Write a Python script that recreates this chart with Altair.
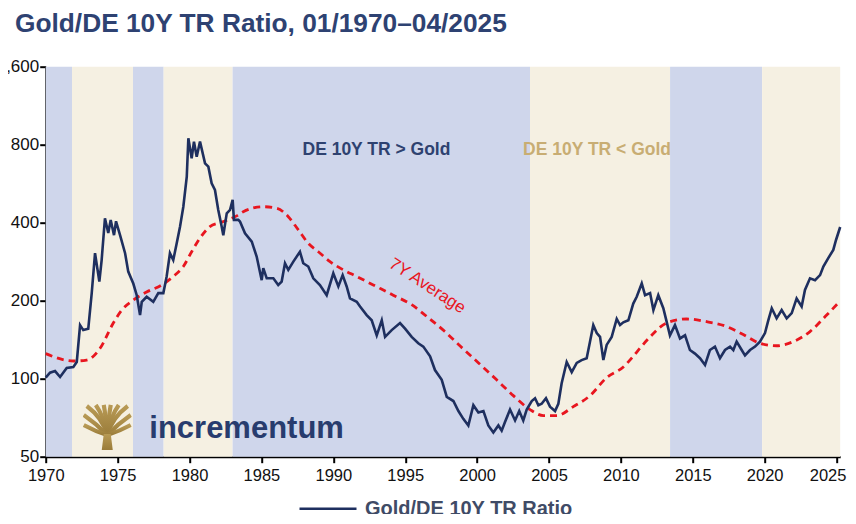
import base64
import altair as alt
import pandas as pd

# ---------------- data ----------------
ratio_year = [
    1970.0, 1970.3, 1970.65, 1971.0, 1971.46, 1971.92, 1972.16, 1972.39, 1972.61, 1972.96,
    1973.2, 1973.43, 1973.73, 1973.89, 1974.12, 1974.35, 1974.52, 1974.75, 1974.89, 1975.17,
    1975.52, 1975.74, 1976.09, 1976.33, 1976.56, 1976.68, 1977.02, 1977.48, 1977.83, 1978.18,
    1978.41, 1978.64, 1978.87, 1979.11, 1979.34, 1979.57, 1979.81, 1979.92,
    1980.15, 1980.31, 1980.5, 1980.73, 1981.08, 1981.31, 1981.54, 1981.77, 1982.0, 1982.24,
    1982.35, 1982.59, 1982.82, 1983.0, 1983.09, 1983.39, 1983.51, 1983.86, 1984.33, 1984.67,
    1985.02, 1985.13, 1985.37, 1985.83, 1986.17, 1986.41, 1986.64, 1986.87, 1987.22, 1987.68,
    1987.91, 1988.26, 1988.61, 1989.07, 1989.54,
    1990.0, 1990.35, 1990.65, 1990.93, 1991.16, 1991.63, 1991.86, 1992.32, 1992.67, 1993.02,
    1993.37, 1993.6, 1994.06, 1994.64, 1994.99, 1995.45, 1995.91, 1996.26, 1996.73, 1997.07,
    1997.54, 1997.89, 1998.35, 1998.7, 1999.04, 1999.39, 1999.74,
    2000.09, 2000.44, 2000.78, 2001.13, 2001.48, 2001.71, 2001.94, 2002.29, 2002.64, 2002.93,
    2003.21, 2003.45, 2003.8, 2004.03, 2004.26, 2004.49, 2004.79, 2005.07, 2005.42, 2005.65,
    2005.88, 2006.23, 2006.58, 2006.93, 2007.27, 2007.62, 2007.85, 2008.08, 2008.32, 2008.55,
    2008.78, 2009.01, 2009.36, 2009.71, 2009.94,
    2010.17, 2010.52, 2010.86, 2011.1, 2011.45, 2011.68, 2012.03, 2012.26, 2012.6, 2012.95,
    2013.18, 2013.41, 2013.76, 2014.11, 2014.46, 2014.8, 2015.15, 2015.5, 2015.85, 2016.19,
    2016.54, 2016.89, 2017.24, 2017.59, 2017.82, 2018.05, 2018.4, 2018.63, 2018.98, 2019.33,
    2019.67,
    2020.02, 2020.25, 2020.49, 2020.83, 2021.18, 2021.53, 2021.88, 2022.22, 2022.57, 2022.8,
    2023.15, 2023.5, 2023.85, 2024.08, 2024.42, 2024.77, 2024.96, 2025.25,
]
ratio_value = [
    101, 105.5, 107, 101.5, 110, 111, 116, 161, 154, 156,
    214, 305, 237, 287, 416, 365, 410, 358, 405, 358,
    305, 259, 233, 210, 176, 198, 207, 198, 214, 214,
    248, 305, 287, 333, 386, 461, 602, 847,
    709, 822, 719, 822, 678, 658, 568, 535, 448, 386,
    358, 435, 448, 490, 410, 410, 404, 364, 338, 296,
    240, 267, 244, 244, 230, 237, 279, 263, 283, 309,
    279, 271, 244, 230, 210,
    255, 227, 251, 227, 204, 198, 190, 176, 168, 147,
    168, 145, 154, 164, 156, 145, 137, 133, 122, 108,
    99, 85, 82, 75, 70, 66, 79,
    74, 75, 66, 62, 66, 63, 68, 76, 69, 75,
    69, 76, 82, 84, 79, 80, 84, 78, 75, 80,
    96, 116, 106, 115, 118, 120, 139, 161, 150, 145,
    118, 135, 145, 170, 161,
    165, 168, 195, 207, 233, 210, 214, 184, 210, 187,
    166, 147, 161, 143, 147, 129, 125, 120, 113, 129,
    133, 120, 129, 133, 129, 139, 129, 123, 129, 133,
    139,
    150, 168, 187, 171, 184, 171, 179, 204, 190, 220,
    244, 240, 251, 271, 292, 314, 343, 385,
]

avg_year = [
    1970.0, 1971.92, 1972.85, 1973.78, 1974.7, 1975.29, 1976.09, 1977.02, 1978.07, 1978.87,
    1979.57, 1980.15, 1980.73, 1981.42, 1982.24, 1983.28, 1983.74, 1985.13, 1986.06, 1986.87,
    1987.57, 1988.26, 1988.96, 1989.77, 1990.7, 1991.63, 1992.78, 1994.17, 1995.45, 1996.49,
    1997.76, 1998.86, 2000.1, 2001.36, 2002.52, 2003.68, 2004.61, 2005.54, 2006.69, 2007.85,
    2009.01, 2010.17, 2010.86, 2011.32, 2012.03, 2013.18, 2014.57, 2015.96, 2017.35, 2018.51,
    2019.67, 2020.83, 2021.99, 2023.15, 2024.31, 2025.19,
]
avg_value = [
    125, 117, 118, 131, 164, 184, 201, 216, 230, 248,
    271, 309, 349, 386, 402, 425, 441, 461, 455, 422,
    375, 333, 309, 283, 263, 248, 230, 210, 193, 174,
    152, 133, 115, 99, 86, 76, 72, 72, 78, 86,
    101, 111, 122, 131, 145, 164, 170, 166, 159, 148,
    137, 134, 139, 152, 176, 198,
]

band_start = [1970.0, 1971.83, 1976.07, 1978.2, 1983.0, 2003.68, 2013.42, 2019.82]
band_end = [1971.83, 1976.07, 1978.2, 1983.0, 2003.68, 2013.42, 2019.82, 2025.25]
band_regime = ["DE 10Y TR > Gold", "DE 10Y TR < Gold"] * 4

x_ticks = list(range(1970, 2026, 5))
y_ticks = [50, 100, 200, 400, 800, 1600]

series_name = "Gold/DE 10Y TR Ratio"
title_text = "Gold/DE 10Y TR Ratio, 01/1970\u201304/2025"

assert len(ratio_year) == len(ratio_value)
assert len(avg_year) == len(avg_value)

ratio_df = pd.DataFrame({"year": ratio_year, "value": ratio_value, "series": series_name})
avg_df = pd.DataFrame({"year": avg_year, "value": avg_value})
band_df = pd.DataFrame({"start": band_start, "end": band_end, "regime": band_regime})

# ---------------- styling ----------------
FONT = "Liberation Sans"
NAVY = "#1e2f5f"
RED = "#e8161f"
W, H = 794.5, 390
PAD = {"left": 37.7, "top": 58.7, "right": 7.8, "bottom": 57}

x_scale = alt.Scale(domain=[1970, 2025.25], nice=False, zero=False)
y_scale = alt.Scale(type="log", base=2, domain=[50, 1600], nice=False)

x_axis = alt.Axis(values=x_ticks, format="d", title=None, grid=False,
                  domainColor="#000", domainWidth=2, tickColor="#000", tickWidth=2,
                  tickSize=6, labelFontSize=16.5, labelFont=FONT, labelColor="#111",
                  labelPadding=5, labelFlush=False,
                  labelOffset={"condition": {"test": "datum.value == 2025", "value": -9},
                               "value": 0})
y_axis = alt.Axis(values=y_ticks, format=",d", title=None, grid=False,
                  domainColor="#000", domainWidth=2, tickColor="#000", tickWidth=2,
                  tickSize=6, labelFontSize=17, labelFont=FONT, labelColor="#111",
                  labelPadding=1)

X = lambda f: alt.X(f, type="quantitative", scale=x_scale, axis=x_axis)
Y = lambda f: alt.Y(f, type="quantitative", scale=y_scale, axis=y_axis)

bands = alt.Chart(band_df).mark_rect().encode(
    x=X("start"),
    x2="end",
    fill=alt.Fill("regime:N", legend=None,
                  scale=alt.Scale(domain=["DE 10Y TR > Gold", "DE 10Y TR < Gold"],
                                  range=["#cfd6eb", "#f5f0e2"])),
)

avg_line = alt.Chart(avg_df).mark_line(
    color=RED, strokeWidth=2.8, strokeDash=[7, 5], interpolate="monotone"
).encode(x=X("year"), y=Y("value"))

ratio_line = alt.Chart(ratio_df).mark_line(strokeWidth=2.6).encode(
    x=X("year"),
    y=Y("value"),
    stroke=alt.Stroke("series:N",
                      scale=alt.Scale(domain=[series_name], range=[NAVY]),
                      legend=alt.Legend(orient="none", legendX=252.3, legendY=412,
                                        title=None, symbolType="stroke", symbolSize=3249,
                                        symbolStrokeWidth=2.5, labelFont=FONT,
                                        labelFontSize=20, labelFontWeight="bold",
                                        labelColor="#3f4b66", labelOffset=7,
                                        labelLimit=400)),
)

# annotations placed in data coordinates
label_df = pd.DataFrame({
    "year": [1993.0, 2008.34],
    "value": [763, 763],
    "text": ["DE 10Y TR > Gold", "DE 10Y TR < Gold"],
    "regime": ["DE 10Y TR > Gold", "DE 10Y TR < Gold"],
})
labels = alt.Chart(label_df).mark_text(font=FONT, fontSize=17.5, fontWeight="bold",
                                       align="center", baseline="middle").encode(
    x=X("year"), y=Y("value"), text="text:N",
    color=alt.Color("regime:N", legend=None,
                    scale=alt.Scale(domain=["DE 10Y TR > Gold", "DE 10Y TR < Gold"],
                                    range=["#2e4270", "#c8ad73"])),
)

avg_label = alt.Chart(pd.DataFrame({"year": [1996.54], "value": [228], "text": ["7Y Average"]})).mark_text(
    font=FONT, fontSize=17, color=RED, angle=33, align="center", baseline="middle"
).encode(x=X("year"), y=Y("value"), text="text:N")

logo_text = alt.Chart(pd.DataFrame({"year": [1983.97], "value": [59.0], "text": ["incrementum"]})).mark_text(
    font=FONT, fontSize=31, fontWeight="bold", color="#283c6e", align="center",
    baseline="alphabetic"
).encode(x=X("year"), y=Y("value"), text="text:N")

tree_svg = (
    "<svg xmlns='http://www.w3.org/2000/svg' viewBox='0 0 49 46'>"
    "<defs><linearGradient id='g' x1='0' y1='0' x2='0' y2='1'>"
    "<stop offset='0' stop-color='#b89a55'/><stop offset='1' stop-color='#9a7c3a'/>"
    "</linearGradient></defs>"
    "<g fill='none' stroke='url(#g)' stroke-width='4.2' stroke-linecap='butt'>"
    "<path d='M24.5 31 Q20 14 4 2'/>"
    "<path d='M24.5 31 Q21 12 13 1'/>"
    "<path d='M24.5 31 Q23 12 21 1'/>"
    "<path d='M24.5 31 Q26 12 28 1'/>"
    "<path d='M24.5 31 Q28 12 36 1'/>"
    "<path d='M24.5 31 Q29 14 45 2'/>"
    "<path d='M24.5 31 Q14 20 1 11'/>"
    "<path d='M24.5 31 Q35 20 48 11'/>"
    "<path d='M24.5 31 Q12 27 1 21'/>"
    "<path d='M24.5 31 Q37 27 48 21'/>"
    "</g>"
    "<path d='M19 46 L30 46 L28 30 L21 30 Z' fill='url(#g)'/>"
    "</svg>"
)
tree_url = "data:image/svg+xml;base64," + base64.b64encode(tree_svg.encode()).decode()
tree = alt.Chart(pd.DataFrame({"year": [1974.28], "value": [65.1], "url": [tree_url]})).mark_image(
    width=49, height=46, align="center", baseline="middle"
).encode(x=X("year"), y=Y("value"), url="url:N")

chart = alt.layer(
    bands, tree, logo_text, labels, avg_label, avg_line, ratio_line
).properties(
    width=W, height=H,
    autosize=alt.AutoSizeParams(type="none"),
    padding=PAD,
    background="white",
    title=alt.TitleParams(title_text, anchor="start", frame="group", dx=-30.7, dy=5,
                          font=FONT, fontSize=26.3, fontWeight="bold", color="#2e4272",
                          baseline="alphabetic"),
).configure_view(stroke=None)

chart.save("out.html", embed_options={"renderer": "svg", "actions": False})
